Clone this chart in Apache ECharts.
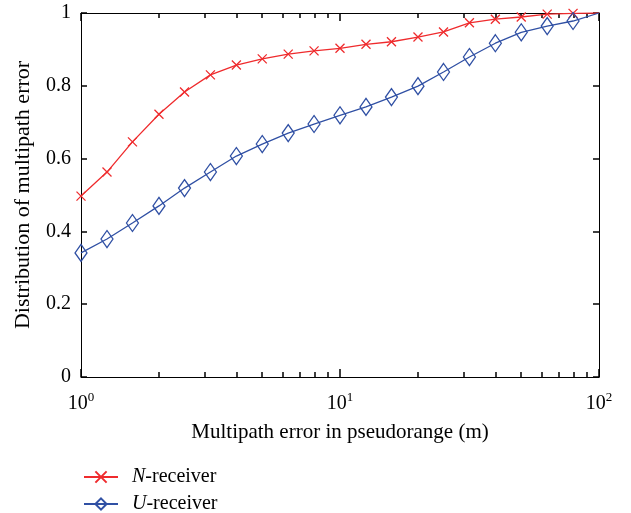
<!DOCTYPE html>
<html>
<head>
<meta charset="utf-8">
<script src="https://cdn.jsdelivr.net/npm/echarts@6/dist/echarts.min.js"></script>
<style>
  html, body { margin: 0; padding: 0; background: #fff; }
  #chart { width: 631px; height: 513px; }
</style>
</head>
<body>
<div id="chart"></div>
<script>
// pseudorange multipath error (m), log spaced
const errors = [1, 1.26, 1.58, 2, 2.51, 3.16, 3.98, 5.01, 6.31, 7.94, 10,
  12.6, 15.8, 20, 25.1, 31.6, 39.8, 50.1, 63.1, 79.4, 100]
const nReceiver = [0.497, 0.563, 0.646, 0.722, 0.783, 0.830, 0.857, 0.874, 0.887, 0.896, 0.903,
  0.914, 0.921, 0.934, 0.948, 0.973, 0.983, 0.989, 0.997, 0.999, 1.0]
const uReceiver = [0.341, 0.379, 0.423, 0.470, 0.519, 0.563, 0.607, 0.640, 0.670, 0.695, 0.719,
  0.742, 0.769, 0.799, 0.838, 0.879, 0.917, 0.947, 0.964, 0.978, 1.0]
const minorTicks = [2, 3, 4, 5, 6, 7, 8, 9, 20, 30, 40, 50, 60, 70, 80, 90]

const FONT = 'Liberation Serif'
const RED = '#ef2b2d'
const BLUE = '#3050a4'

// last point has no marker
function toData(values) {
  return values.map((v, i) => {
    const item = { value: [errors[i], v] }
    if (i === values.length - 1) item.symbol = 'none'
    return item
  })
}

// extra log axis, only for the 2..9 minor ticks
function minorAxis(position) {
  return {
    type: 'log',
    logBase: 10,
    min: 1,
    max: 100,
    position,
    axisLine: { show: false, onZero: false },
    axisLabel: { show: false },
    splitLine: { show: false },
    axisTick: {
      show: true,
      inside: true,
      length: 5,
      customValues: minorTicks,
      lineStyle: { color: '#000', width: 1.5 }
    }
  }
}

function majorTick(len) {
  return { show: true, inside: true, length: len, lineStyle: { color: '#000', width: 1.5 } }
}

function legendItem(name, top) {
  return {
    orient: 'vertical',
    left: 83,
    top,
    padding: 0,
    itemWidth: 34,
    itemHeight: 14,
    data: [name],
    formatter: n => '{i|' + n.charAt(0) + '}' + n.slice(1),
    textStyle: {
      fontFamily: FONT,
      fontSize: 20,
      color: '#000',
      padding: [0, 0, 0, 9],
      rich: {
        i: { fontFamily: FONT, fontSize: 20, fontStyle: 'italic', color: '#000' }
      }
    }
  }
}

const chart = echarts.init(document.getElementById('chart'))

const option = {
  animation: false,
  grid: {
    left: 81,
    right: 32,
    top: 13,
    bottom: 136
  },
  legend: [legendItem('N-receiver', 467), legendItem('U-receiver', 494)],
  xAxis: [{
    type: 'log',
    logBase: 10,
    min: 1,
    max: 100,
    position: 'bottom',
    name: 'Multipath error in pseudorange (m)',
    nameLocation: 'middle',
    nameGap: 45,
    nameTextStyle: { fontFamily: FONT, fontSize: 21, color: '#000' },
    axisLine: { onZero: false, lineStyle: { color: '#000', width: 1 } },
    axisTick: majorTick(8),
    splitLine: { show: false },
    axisLabel: {
      margin: 14,
      formatter: v => '10{sup|' + Math.round(Math.log10(v)) + '}',
      fontFamily: FONT,
      fontSize: 20,
      color: '#000',
      rich: {
        sup: { fontFamily: FONT, fontSize: 13, color: '#000', verticalAlign: 'bottom', padding: [0, 0, 12, 0] }
      }
    }
  }, {
    type: 'log',
    logBase: 10,
    min: 1,
    max: 100,
    position: 'top',
    axisLine: { onZero: false, lineStyle: { color: '#000', width: 1 } },
    axisTick: majorTick(8),
    axisLabel: { show: false },
    splitLine: { show: false }
  },
  minorAxis('bottom'),
  minorAxis('top')
  ],
  yAxis: [{
    type: 'value',
    min: 0,
    max: 1,
    interval: 0.2,
    position: 'left',
    name: 'Distribution of multipath error',
    nameLocation: 'middle',
    nameGap: 47,
    nameTextStyle: { fontFamily: FONT, fontSize: 22, color: '#000' },
    axisLine: { show: true, onZero: false, lineStyle: { color: '#000', width: 1 } },
    axisTick: majorTick(6),
    splitLine: { show: false },
    axisLabel: { margin: 10, fontFamily: FONT, fontSize: 20, color: '#000' }
  }, {
    type: 'value',
    min: 0,
    max: 1,
    interval: 0.2,
    position: 'right',
    axisLine: { show: true, onZero: false, lineStyle: { color: '#000', width: 1 } },
    axisTick: majorTick(6),
    splitLine: { show: false },
    axisLabel: { show: false }
  }],
  series: [{
    name: 'N-receiver',
    type: 'line',
    xAxisIndex: 0,
    yAxisIndex: 0,
    data: toData(nReceiver),
    symbol: 'path://M0,0L10,10M10,0L0,10',
    symbolSize: 9,
    showAllSymbol: true,
    lineStyle: { color: RED, width: 1.3 },
    itemStyle: { color: RED, borderColor: RED, borderWidth: 1.3 }
  }, {
    name: 'U-receiver',
    type: 'line',
    xAxisIndex: 0,
    yAxisIndex: 0,
    data: toData(uReceiver),
    symbol: 'path://M5,0L10,8L5,16L0,8Z',
    symbolSize: [12, 17],
    showAllSymbol: true,
    lineStyle: { color: BLUE, width: 1.3 },
    itemStyle: { color: 'rgba(0,0,0,0)', borderColor: BLUE, borderWidth: 1.3 }
  }]
}

chart.setOption(option)
</script>
</body>
</html>
